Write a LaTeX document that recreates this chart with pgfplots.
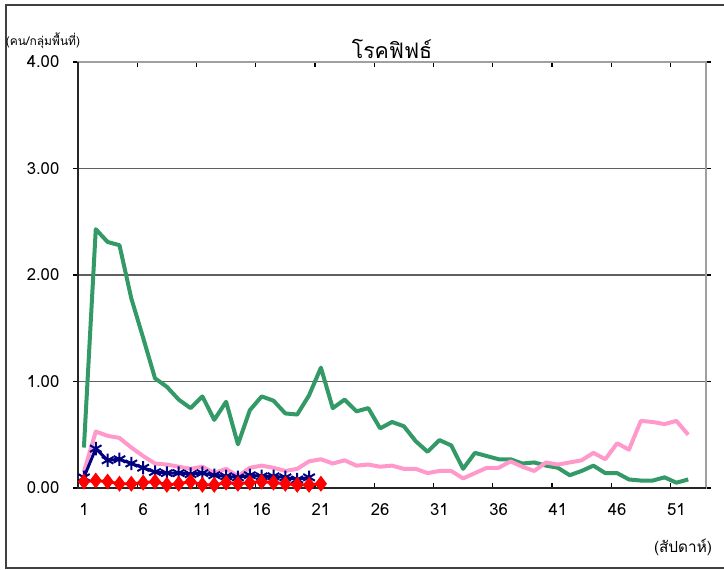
\documentclass[border=0pt]{standalone}
\usepackage{fontspec}
\usepackage{pgfplots}
\pgfplotsset{compat=1.18}
\setmainfont{Loma}[Script=Thai]
\definecolor{cgreen}{HTML}{339966}
\definecolor{cpink}{HTML}{FF99CC}
\definecolor{cnavy}{HTML}{000080}
\definecolor{cred}{HTML}{FF0000}
\definecolor{cgrid}{HTML}{606060}
\definecolor{cborder}{HTML}{A0A0A0}
\begin{document}
\begin{tikzpicture}
\useasboundingbox (-58.5pt,-60.75pt) rectangle (484.5pt,366pt);
\draw[line width=1.2pt, black!75] (-54pt,-60pt) rectangle (525pt,362.25pt);
\begin{axis}[
  at={(0pt,0pt)}, anchor=south west,
  scale only axis, width=471pt, height=319.5pt,
  xmin=0.5, xmax=53.5, ymin=0, ymax=4,
  xtick={0.5,5.5,...,50.5}, xticklabels={},
  extra x ticks={1,6,...,51},
  extra x tick labels={1,6,11,16,21,26,31,36,41,46,51},
  extra x tick style={major tick length=0pt, grid=none},
  xtick align=inside, ytick align=outside,
  major tick length=3.5pt,
  ytick={0,1,2,3,4},
  ymajorgrids, grid style={cgrid, line width=1.1pt},
  tick style={black, line width=0.9pt},
  axis line style={cborder, line width=1.6pt},
  /pgf/number format/assume math mode=true,
  yticklabel style={/pgf/number format/fixed, /pgf/number format/fixed zerofill, /pgf/number format/precision=2, font=\fontsize{12.5}{15}\selectfont, xshift=-7pt},
  xticklabel style={font=\fontsize{12.5}{15}\selectfont, yshift=-8pt},
  clip=false,
]
\addplot[cgreen, line width=3pt, line join=round] coordinates {
(1,0.38)(2,2.43)(3,2.31)(4,2.28)(5,1.78)(6,1.41)(7,1.03)(8,0.95)(9,0.83)(10,0.75)
(11,0.86)(12,0.64)(13,0.81)(14,0.41)(15,0.73)(16,0.86)(17,0.82)(18,0.70)(19,0.69)(20,0.87)
(21,1.13)(22,0.75)(23,0.83)(24,0.72)(25,0.75)(26,0.56)(27,0.62)(28,0.58)(29,0.44)(30,0.34)
(31,0.45)(32,0.40)(33,0.18)(34,0.33)(35,0.30)(36,0.27)(37,0.27)(38,0.23)(39,0.24)(40,0.21)
(41,0.19)(42,0.12)(43,0.16)(44,0.21)(45,0.14)(46,0.14)(47,0.08)(48,0.07)(49,0.07)(50,0.10)
(51,0.05)(52,0.08)};
\addplot[cpink, line width=3pt, line join=round] coordinates {
(1,0.15)(2,0.53)(3,0.49)(4,0.47)(5,0.38)(6,0.30)(7,0.23)(8,0.22)(9,0.20)(10,0.18)
(11,0.20)(12,0.14)(13,0.18)(14,0.11)(15,0.19)(16,0.21)(17,0.19)(18,0.16)(19,0.18)(20,0.25)
(21,0.27)(22,0.23)(23,0.26)(24,0.21)(25,0.22)(26,0.20)(27,0.21)(28,0.18)(29,0.18)(30,0.14)
(31,0.16)(32,0.16)(33,0.09)(34,0.14)(35,0.19)(36,0.19)(37,0.25)(38,0.20)(39,0.16)(40,0.24)
(41,0.22)(42,0.24)(43,0.26)(44,0.33)(45,0.27)(46,0.42)(47,0.36)(48,0.63)(49,0.62)(50,0.60)
(51,0.63)(52,0.50)};
\addplot[cnavy, line width=2.2pt, mark=asterisk, mark size=5pt, mark options={line width=1.5pt}] coordinates {
(1,0.10)(2,0.37)(3,0.26)(4,0.27)(5,0.23)(6,0.19)(7,0.15)(8,0.14)(9,0.14)(10,0.13)
(11,0.14)(12,0.12)(13,0.11)(14,0.10)(15,0.12)(16,0.11)(17,0.11)(18,0.10)(19,0.08)(20,0.10)};
\addplot[cred, line width=2.2pt, mark=diamond*, mark size=4.2pt] coordinates {
(1,0.06)(2,0.07)(3,0.06)(4,0.04)(5,0.04)(6,0.05)(7,0.06)(8,0.03)(9,0.04)(10,0.06)
(11,0.03)(12,0.03)(13,0.05)(14,0.04)(15,0.05)(16,0.06)(17,0.05)(18,0.04)(19,0.03)(20,0.03)(21,0.04)};
\draw[black!85, line width=1.6pt] (rel axis cs:0,1) -- (rel axis cs:0,0) -- (rel axis cs:1,0);
\end{axis}
\node[font=\fontsize{16}{19}\selectfont] at (235.5pt,329.25pt) {โรคฟิฟธ์};
\node[font=\fontsize{9}{11}\selectfont] at (-26.25pt,335.25pt) {(คน/กลุ่มพื้นที่)};
\node[font=\fontsize{11.5}{13}\selectfont] at (453.75pt,-44.25pt) {(สัปดาห์)};
\end{tikzpicture}
\end{document}
